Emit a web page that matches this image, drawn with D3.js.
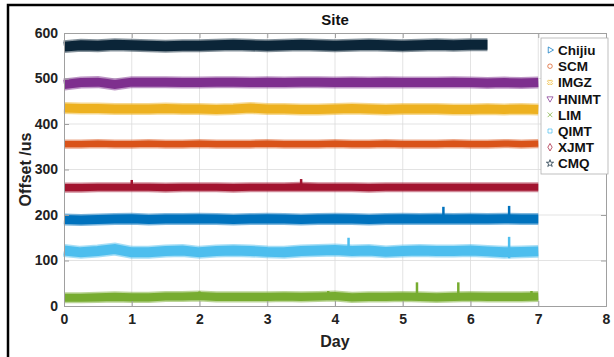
<!DOCTYPE html>
<html>
<head>
<meta charset="utf-8">
<script src="https://cdn.jsdelivr.net/npm/d3@7"></script>
<style>
  body { margin: 0; background: #fff; }
  svg { display: block; font-family: "Liberation Sans", Arial, sans-serif; }
</style>
</head>
<body>
<svg id="chart" width="614" height="357"></svg>
<script>
// sampled day positions (every 6 hours)
const days = [0, 0.25, 0.5, 0.75, 1, 1.25, 1.5, 1.75, 2, 2.25, 2.5, 2.75, 3, 3.25, 3.5,
              3.75, 4, 4.25, 4.5, 4.75, 5, 5.25, 5.5, 5.75, 6, 6.25, 6.5, 6.75, 7];

const seriesNames = ['Chijiu', 'SCM', 'IMGZ', 'HNIMT', 'LIM', 'QIMT', 'XJMT', 'CMQ'];
const seriesColors = ['#0072BD', '#D95319', '#EDB120', '#7E2F8E', '#77AC30', '#4DBEEE', '#A2142F', '#0B2538'];

// offset readings (us), one per entry of days
const chijiu = [190, 189, 190, 191, 192, 190, 191, 191, 192, 191, 190, 191, 192, 191, 190,
                191, 192, 191, 190, 191, 192, 191, 192, 191, 192, 191, 192, 191, 191];
const scm    = [356, 356, 357, 356, 356, 357, 356, 356, 357, 356, 356, 356, 357, 356, 356,
                356, 357, 356, 356, 357, 356, 356, 356, 357, 356, 356, 357, 356, 357];
const imgz   = [435, 434, 434, 433, 433, 433, 434, 433, 433, 432, 433, 435, 433, 433, 432,
                432, 433, 434, 433, 432, 433, 433, 433, 432, 432, 433, 432, 433, 432];
const hnimt  = [487, 491, 492, 487, 492, 492, 492, 491, 491, 492, 492, 491, 492, 491, 492,
                492, 491, 492, 491, 492, 491, 491, 491, 492, 491, 490, 491, 490, 491];
const lim    = [18, 18, 19, 20, 19, 19, 21, 21, 22, 20, 20, 20, 20, 21, 20,
                21, 22, 19, 20, 20, 21, 20, 19, 20, 21, 20, 20, 20, 21];
const qimt   = [122, 118, 121, 125, 118, 118, 121, 122, 118, 121, 122, 121, 119, 118, 121,
                122, 123, 121, 122, 119, 121, 122, 121, 121, 122, 120, 118, 119, 120];
const xjmt   = [260, 260, 261, 261, 261, 261, 260, 261, 261, 261, 260, 261, 261, 261, 262,
                261, 261, 261, 260, 261, 261, 261, 261, 261, 261, 261, 261, 261, 261];
const cmq    = [570, 573, 572, 574, 573, 572, 571, 572, 572, 573, 574, 573, 572, 573, 574,
                573, 572, 573, 574, 573, 572, 573, 574, 573, 574, 574];

// half width of the scatter band for each series (us)
const spreads = [11, 8, 11, 11, 10, 12, 9, 12];

// short excursions: [series index, day, peak offset]
const spikes = [[0, 5.6, 218], [0, 6.57, 220],
                [5, 4.2, 150], [5, 6.57, 152], [5, 6.57, 105],
                [6, 1.0, 277], [6, 3.5, 279],
                [4, 5.21, 52], [4, 5.82, 52], [4, 6.9, 33], [4, 3.9, 33], [4, 2.0, 32]];

const xTicks = [0, 1, 2, 3, 4, 5, 6, 7, 8];
const yTicks = [0, 100, 200, 300, 400, 500, 600];

const allValues = [chijiu, scm, imgz, hnimt, lim, qimt, xjmt, cmq];

const svg = d3.select('#chart');
const margin = { top: 33, right: 8, bottom: 51, left: 64 };
const width = 614 - margin.left - margin.right;
const height = 357 - margin.top - margin.bottom;

// outer figure frame
svg.append('rect')
    .attr('x', 8).attr('y', 5)
    .attr('width', 640).attr('height', 380)
    .attr('fill', 'none').attr('stroke', '#000').attr('stroke-width', 2.5);

const g = svg.append('g').attr('transform', `translate(${margin.left},${margin.top})`);

const x = d3.scaleLinear().domain([0, 8]).range([0, width]);
const y = d3.scaleLinear().domain([0, 600]).range([height, 0]);

// grid
g.append('g').selectAll('line').data(xTicks.slice(1, -1)).enter().append('line')
    .attr('x1', d => x(d)).attr('x2', d => x(d)).attr('y1', 0).attr('y2', height)
    .attr('stroke', '#dcdcdc').attr('stroke-width', 0.8);
g.append('g').selectAll('line').data(yTicks.slice(1, -1)).enter().append('line')
    .attr('y1', d => y(d)).attr('y2', d => y(d)).attr('x1', 0).attr('x2', width)
    .attr('stroke', '#dcdcdc').attr('stroke-width', 0.8);

// bands
const line = d3.line().x(d => x(d[0])).y(d => y(d[1]));
allValues.forEach((vals, i) => {
    const pts = vals.map((v, k) => [days[k], v]);
    const w = y(0) - y(2 * spreads[i]);
    g.append('path').attr('d', line(pts)).attr('fill', 'none')
        .attr('stroke', seriesColors[i]).attr('stroke-width', w + 2).attr('opacity', 0.5);
    g.append('path').attr('d', line(pts)).attr('fill', 'none')
        .attr('stroke', seriesColors[i]).attr('stroke-width', w - 1);
});

// spikes
spikes.forEach(([i, d, v]) => {
    const k = Math.round(d / 0.25);
    const base = allValues[i][Math.min(k, allValues[i].length - 1)];
    g.append('line')
        .attr('x1', x(d)).attr('x2', x(d))
        .attr('y1', y(base)).attr('y2', y(v))
        .attr('stroke', seriesColors[i]).attr('stroke-width', 2.5);
});

// axes
const xAxis = g.append('g').attr('transform', `translate(0,${height})`)
    .call(d3.axisBottom(x).tickValues(xTicks).tickSize(-5).tickPadding(8));
const yAxis = g.append('g')
    .call(d3.axisLeft(y).tickValues(yTicks).tickSize(-5).tickPadding(6));
const xTop = g.append('g').call(d3.axisTop(x).tickValues(xTicks).tickSize(-5).tickFormat(''));
const yRight = g.append('g').attr('transform', `translate(${width},0)`)
    .call(d3.axisRight(y).tickValues(yTicks).tickSize(-5).tickFormat(''));
[xAxis, yAxis, xTop, yRight].forEach(a => {
    a.select('.domain').attr('stroke', '#a0a0a0');
    a.selectAll('.tick line').attr('stroke', '#a0a0a0');
    a.selectAll('text').attr('fill', '#222').attr('font-size', 14).attr('font-weight', 'bold')
        .attr('font-family', '"Liberation Sans", Arial, sans-serif');
});

// titles
svg.append('text').attr('x', margin.left + width / 2).attr('y', 25).attr('text-anchor', 'middle')
    .attr('font-size', 15).attr('font-weight', 'bold').attr('fill', '#111').text('Site');
svg.append('text').attr('x', margin.left + width / 2).attr('y', 347).attr('text-anchor', 'middle')
    .attr('font-size', 16).attr('font-weight', 'bold').attr('fill', '#222').text('Day');
svg.append('text').attr('transform', `translate(31,${margin.top + height / 2}) rotate(-90)`)
    .attr('text-anchor', 'middle')
    .attr('font-size', 16).attr('font-weight', 'bold').attr('fill', '#222').text('Offset /us');

// legend
const symbols = [d3.symbolTriangle, d3.symbolCircle, d3.symbolCross, d3.symbolTriangle,
                 d3.symbolX, d3.symbolSquare, d3.symbolDiamond, d3.symbolStar];
const rot = [90, 0, 45, 180, 0, 0, 0, 0];
const legend = svg.append('g').attr('transform', 'translate(541,38)');
legend.append('rect').attr('width', 67).attr('height', 136)
    .attr('fill', '#fff').attr('stroke', '#b0b0b0').attr('stroke-width', 0.8);
seriesNames.forEach((name, i) => {
    const row = legend.append('g').attr('transform', `translate(0,${12 + i * 16.2})`);
    row.append('path')
        .attr('d', d3.symbol().type(symbols[i]).size(16)())
        .attr('transform', `translate(9,0) rotate(${rot[i]})`)
        .attr('fill', 'none').attr('stroke', seriesColors[i]).attr('stroke-width', 0.9)
        .attr('opacity', 0.8);
    row.append('text').attr('x', 17).attr('y', 5)
        .attr('font-size', 13.5).attr('font-weight', 'bold').attr('fill', '#111').text(name);
});
</script>
</body>
</html>
